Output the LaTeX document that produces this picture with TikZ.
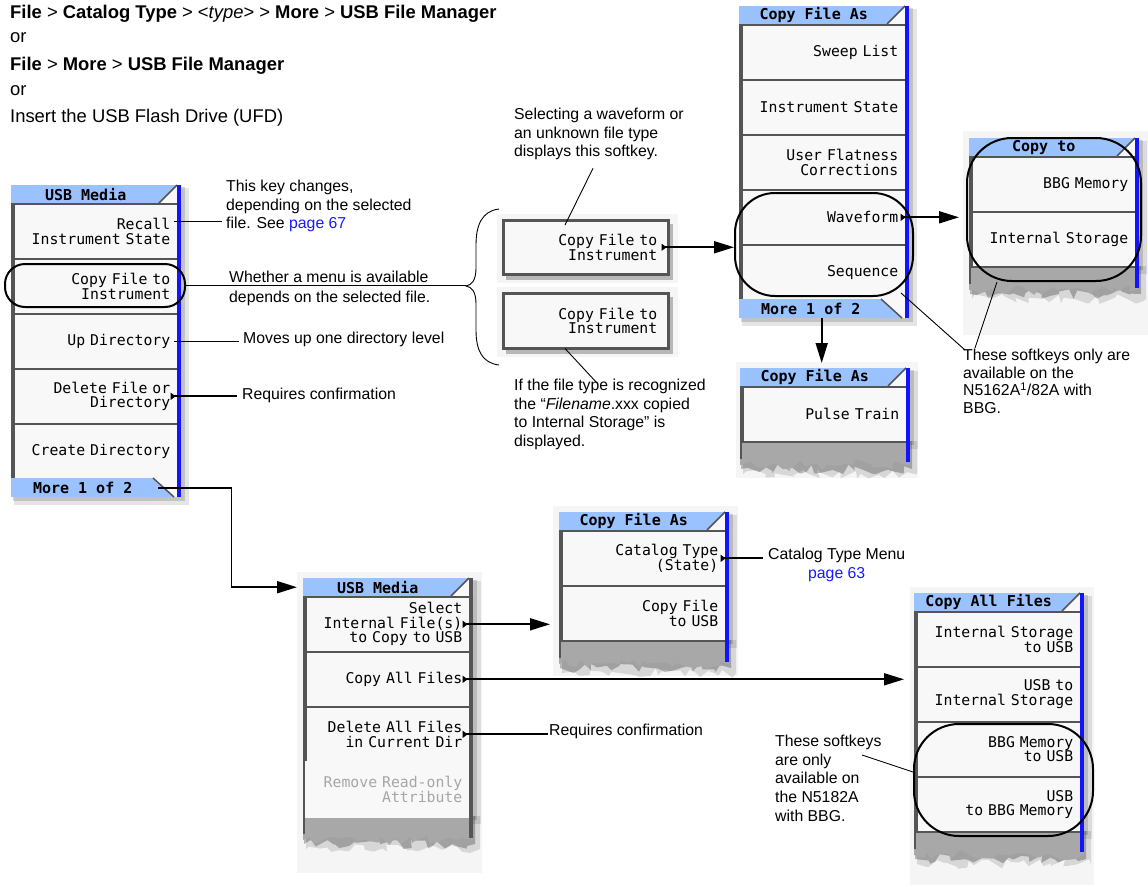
\documentclass[tikz,border=0pt]{standalone}
\usepackage{fontspec}
\setmainfont{Liberation Sans}
\newfontfamily\keyfont{DejaVu Sans Mono}
\usetikzlibrary{arrows.meta,positioning,fit,calc,decorations.pathmorphing}
\definecolor{titleblue}{RGB}{153,194,255}
\definecolor{rimblue}{RGB}{20,20,250}
\definecolor{edgegray}{RGB}{85,85,85}
\definecolor{keyfill}{RGB}{248,248,248}
\definecolor{framegray}{RGB}{150,150,150}
\definecolor{torngray}{RGB}{168,168,168}
\definecolor{linkblue}{RGB}{25,25,255}
\definecolor{haze}{RGB}{245,245,245}
\newcommand{\menuframe}[3]{%
  \fill[black, opacity=.10] (#1+3,#2+3) rectangle (#1+178,#3+8);
  \fill[black, opacity=.15] (#1+2,#2+2) rectangle (#1+174,#3+4);
  \fill[framegray] (#1,#2) rectangle (#1+170,#3);
  \fill[edgegray] (#1,#2) rectangle (#1+2,#3);
}
\newcommand{\menutorn}[2]{%
  \fill[black, opacity=.12] (#1+3,#2) -- (#1+177,#2) -- (#1+177,#2+33) decorate[jag]{-- (#1+3,#2+33)} -- cycle;
  \fill[black, opacity=.25] (#1+1,#2) -- (#1+172,#2) -- (#1+172,#2+28) decorate[jag]{-- (#1+1,#2+28)} -- cycle;
  \fill[torngray] (#1,#2) -- (#1+170,#2) -- (#1+170,#2+24) decorate[jag]{-- (#1,#2+24)} -- cycle;
  \fill[edgegray] (#1,#2) rectangle (#1+2,#2+18);
}
\newcommand{\menunotch}[2]{%
  \fill[keyfill] (#1+148,#2+18) -- (#1+166,#2) -- (#1+170,#2) -- (#1+170,#2+18) -- cycle;
  \fill[titleblue] (#1+148,#2) -- (#1+166,#2) -- (#1+148,#2+18) -- cycle;
  \draw[edgegray, line width=1.5pt] (#1+148,#2+18) -- (#1+166,#2);
}
\newcommand{\menumorenotch}[2]{%
  \fill[keyfill] (#1+142,#2) rectangle (#1+170,#2+19);
  \fill[titleblue] (#1+142,#2) -- (#1+163,#2+19) -- (#1+142,#2+19) -- cycle;
  \draw[edgegray, line width=1.5pt] (#1+142,#2) -- (#1+163,#2+19);
}
\newcommand{\menurim}[4]{\fill[#4] (#1+166,#2) rectangle (#1+170,#3);}
\tikzset{
  softkey/.style={draw=edgegray, line width=1.6pt, fill=keyfill, rectangle, minimum width=164pt, minimum height=55pt, text width=149pt, align=right, inner sep=0pt, anchor=north west, font=\keyfont\fontsize{14.8}{14.5}\selectfont},
  dimkey/.style={softkey, text=black!35},
  titlebar/.style={fill=titleblue, rectangle, minimum width=149pt, minimum height=18pt, inner sep=0pt, anchor=north west, font=\keyfont\bfseries\fontsize{15}{15}\selectfont},
  morebar/.style={titlebar, minimum width=143pt, minimum height=19pt},
  hilite/.style={draw, line width=2pt, rounded corners=#1, inner sep=0pt},
  conn/.style={line width=1.8pt},
  arr/.style={conn, -{Triangle[length=20pt,width=12pt]}},
  marr/.style={conn, {Triangle[reversed,length=5pt,width=7pt]}-{Triangle[length=20pt,width=12pt]}},
  tagline/.style={conn, {Triangle[reversed,length=5pt,width=7pt]}-},
  lead/.style={line width=1.6pt},
  pointer/.style={line width=0.9pt},
  note/.style={font=\fontsize{15.8}{18.6}\selectfont, align=left, inner sep=0pt},
  head/.style={font=\fontsize{18.4}{22}\selectfont, anchor=west, inner sep=0pt},
  jag/.style={decoration={random steps, segment length=6pt, amplitude=5pt}},
}
\begin{document}
\begin{tikzpicture}[x=1pt, y=-1pt]
\pgfmathsetseed{12}
\useasboundingbox (0,0) rectangle (1148,886);
% how to get there
\node[head] (hdA) at (10,14) {\textbf{File} > \textbf{Catalog Type} > <\textit{type}> > \textbf{More} > \textbf{USB File Manager}};
\node[head] (hdB) at (10,38) {or};
\node[head] (hdC) at (10,66) {\textbf{File} > \textbf{More} > \textbf{USB File Manager}};
\node[head] (hdD) at (10,91) {or};
\node[head] (hdE) at (10,118) {Insert the USB Flash Drive (UFD)};

% USB Media, page 1
\menuframe{11}{185}{497}
\node[titlebar] (umTitle) at (11,185) {USB Media};
\menunotch{11}{185}
\node[softkey] (umRecall) at (13,203) {Recall\\Instrument State};
\node[softkey] (umCopy) at (13,258) {Copy File to\\Instrument};
\node[softkey] (umUp) at (13,313) {Up Directory};
\node[softkey] (umDelete) at (13,368) {Delete File or\\Directory};
\node[softkey] (umCreate) at (13,423) {Create Directory};
\node[morebar] (umMore) at (11,478) {More 1 of 2};
\menumorenotch{11}{478}
\menurim{11}{185}{497}{rimblue}
\node[hilite=20pt, minimum width=180pt, minimum height=43pt] (ovalCopy) at (95,285.5) {};

\node[note, anchor=west] (noteKey) at (226,206) {This key changes,\\depending on the selected\\file. See \textcolor{linkblue}{page 67}};
\node[note, anchor=south west] (noteWhether) at (229,283) {Whether a menu is available};
\node[note, anchor=north west] (noteDepends) at (229,291) {depends on the selected file.};
\node[note, anchor=west] (noteUp) at (243,339) {Moves up one directory level};
\node[note, anchor=west] (noteConfirmA) at (242,395) {Requires confirmation};
\draw[lead, shorten >=4pt] ($(umRecall.east)+(-5,-10)$) coordinate (recTap) -- (recTap -| noteKey.west);
\draw[lead, shorten >=4pt] ($(umUp.east)+(-5,0)$) -- (umUp.east -| noteUp.west);
\draw[tagline, shorten >=5pt] ($(umDelete.east)+(-8,0)$) -- (umDelete.east -| noteConfirmA.west);

% brace over the two variants
\coordinate (brTop) at (499,209);
\coordinate (brTip) at (466,286);
\coordinate (brBot) at (499,365);
\draw[line width=0.9pt] (brTop) .. controls (482,211) and (476,225) .. (476,245) -- (476,268) .. controls (476,280) and (472,285) .. (brTip) .. controls (472,287) and (476,292) .. (476,304) -- (476,330) .. controls (476,350) and (482,363) .. (brBot);
\draw[lead] (ovalCopy.east) -- (ovalCopy.east -| brTip);

% the two Copy File to Instrument keys
\fill[haze] (497,214) rectangle (678,283);
\fill[haze] (497,287) rectangle (678,357);
\fill[black, opacity=.25] (506,224) rectangle (673,280);
\fill[black, opacity=.25] (506,297) rectangle (673,354);
\node[softkey, line width=2.5pt, minimum width=165pt, minimum height=54pt, text width=143pt] (keyA) at (502,219) {Copy File to\\Instrument};
\node[softkey, line width=2.5pt, minimum width=165pt, minimum height=55pt, text width=143pt] (keyB) at (502,292) {Copy File to\\Instrument};
\node[note, anchor=north west] (noteSel) at (514,108) {Selecting a waveform or\\an unknown file type\\displays this softkey.};
\node[note, anchor=north west] (noteRec) at (514,379) {If the file type is recognized\\the “\textit{Filename}.xxx copied\\to Internal Storage” is\\displayed.};
\draw[pointer] ($(noteSel.south west)+(79,8)$) -- ($(keyA.north west)+(63,6)$);
\draw[pointer] ($(noteRec.north west)+(83,4)$) -- ($(keyB.south west)+(63,-1)$);

% Copy File As, page 1
\menuframe{739}{6}{318}
\node[titlebar] (cfaTitle) at (739,6) {Copy File As};
\menunotch{739}{6}
\node[softkey] (cfaSweep) at (741,24) {Sweep List};
\node[softkey] (cfaState) at (741,79) {Instrument State};
\node[softkey] (cfaFlat) at (741,134) {User Flatness\\Corrections};
\node[softkey] (cfaWave) at (741,189) {Waveform};
\node[softkey] (cfaSeq) at (741,244) {Sequence};
\node[morebar] (cfaMore) at (739,299) {More 1 of 2};
\menumorenotch{739}{299}
\menurim{739}{6}{318}{rimblue}
\node[hilite=40pt, minimum width=178pt, minimum height=103pt] (ovalWave) at (824,244.5) {};

% Copy to
\fill[haze] (963,131) rectangle (1148,335);
\menuframe{969}{138}{266}
\menutorn{969}{266}
\node[titlebar] (ctTitle) at (969,138) {Copy to};
\menunotch{969}{138}
\node[softkey] (ctBBG) at (971,156) {BBG Memory};
\node[softkey] (ctInt) at (971,211) {Internal Storage};
\menurim{969}{138}{288}{rimblue}
\node[hilite=45pt, minimum width=174pt, minimum height=143pt] (ovalTo) at (1054,209.5) {};

% Copy File As, page 2
\fill[haze] (736,362) rectangle (918,478);
\menuframe{740}{368}{441}
\menutorn{740}{441}
\node[titlebar] (ptTitle) at (740,368) {Copy File As};
\menunotch{740}{368}
\node[softkey] (ptPulse) at (742,386) {Pulse Train};
\menurim{740}{368}{462}{rimblue}

\draw[marr] ($(keyA.east)+(-8,0)$) -- (keyA.east -| ovalWave.west);
\draw[marr, shorten >=7pt] ($(cfaWave.east)+(-6,0)$) -- (cfaWave.east -| ovalTo.west);
\coordinate (moreTap) at ($(cfaMore.south)+(11,0)$);
\draw[arr, shorten >=5pt] (moreTap) -- (moreTap |- ptTitle.north);
\node[note, anchor=north west, font=\fontsize{15.8}{17.5}\selectfont] (noteBBGa) at (963,349) {These softkeys only are\\available on the\\N5162A\textsuperscript{1}/82A with\\BBG.};
\draw[pointer] ($(noteBBGa.north west)+(2,1)$) -- ($(ovalWave.south east)+(-13,-4)$);
\draw[pointer] ($(noteBBGa.north west)+(12,-1)$) -- ($(ovalTo.south)+(-57,0)$);

% USB Media, page 2
\fill[haze] (297,572) rectangle (482,873);
\menuframe{303}{578}{816}
\menutorn{303}{816}
\node[titlebar] (umTitleB) at (303,578) {USB Media};
\menunotch{303}{578}
\node[softkey] (umSelect) at (305,596) {Select\\Internal File(s)\\to Copy to USB};
\node[softkey] (umCopyAll) at (305,651) {Copy All Files};
\node[softkey] (umDelAll) at (305,706) {Delete All Files\\in Current Dir};
\node[dimkey, draw=keyfill] (umRemove) at (305,761) {Remove Read-only\\Attribute};
\menurim{303}{578}{838}{edgegray}
\draw[arr, shorten >=6pt] ($(umMore.east)+(4,0)$) -- ++(73,0) |- (umTitleB.west);

% Copy File As from USB
\fill[haze] (553,506) rectangle (738,676);
\menuframe{559}{512}{640}
\menutorn{559}{640}
\node[titlebar] (cuTitle) at (559,512) {Copy File As};
\menunotch{559}{512}
\node[softkey] (cuCat) at (561,530) {Catalog Type\\(State)};
\node[softkey] (cuUSB) at (561,585) {Copy File\\to USB};
\menurim{559}{512}{662}{rimblue}
\node[note, anchor=north west, align=center] (noteCat) at (768,548) {Catalog Type Menu\\\textcolor{linkblue}{page 63}};
\draw[tagline, shorten >=5pt] ($(cuCat.east)+(-6,0)$) -- (cuCat.east -| noteCat.west);

% Copy All Files
\fill[haze] (910,587) rectangle (1094,885);
\menuframe{914}{593}{831}
\menutorn{914}{831}
\node[titlebar] (caTitle) at (914,593) {Copy All Files};
\menunotch{914}{593}
\node[softkey] (caIntUSB) at (916,611) {Internal Storage\\to USB};
\node[softkey] (caUSBInt) at (916,666) {USB to\\Internal Storage};
\node[softkey] (caBBGUSB) at (916,721) {BBG Memory\\to USB};
\node[softkey] (caUSBBBG) at (916,776) {USB\\to BBG Memory};
\menurim{914}{593}{852}{rimblue}
\node[hilite=45pt, minimum width=179pt, minimum height=112pt] (ovalBBG) at (1003.5,780) {};
\node[note, anchor=north west] (noteBBGb) at (775,735) {These softkeys\\are only\\available on\\the N5182A\\with BBG.};
\draw[pointer] ($(noteBBGb.north west)+(87,20)$) -- ($(ovalBBG.west)+(0,-8)$);

\draw[marr, shorten >=11pt] ($(umSelect.east)+(-8,0)$) coordinate (selTap) -- (selTap -| cuUSB.west);
\draw[marr, shorten >=12pt] ($(umCopyAll.east)+(-8,0)$) coordinate (allTap) -- (allTap -| caUSBInt.west);
\node[note, anchor=west] (noteConfirmB) at (549,731) {Requires confirmation};
\draw[tagline, shorten >=1pt] ($(umDelAll.east)+(-8,0)$) -- (umDelAll.east -| noteConfirmB.west);
\end{tikzpicture}
\end{document}
